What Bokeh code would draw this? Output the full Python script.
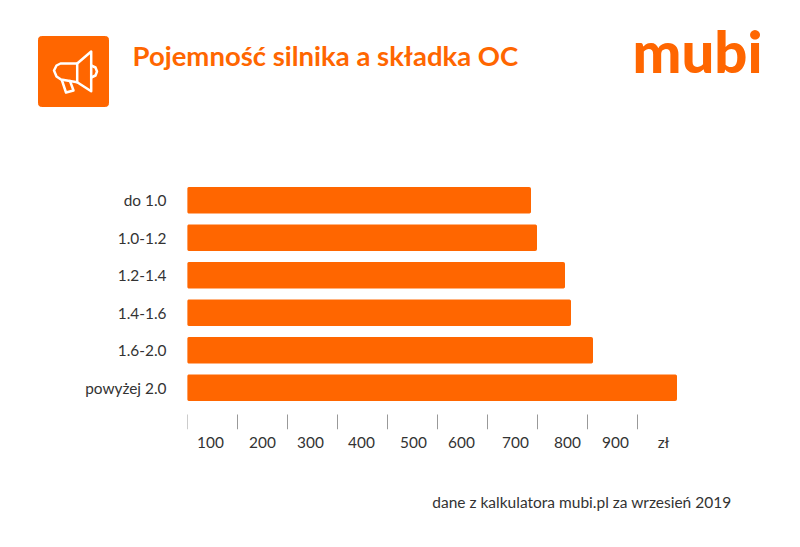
from bokeh.embed import file_html
from bokeh.layouts import column
from bokeh.resources import INLINE
from bokeh.plotting import figure
from bokeh.models import Range1d, LinearAxis, FixedTicker, Label

categories = ["do 1.0", "1.0-1.2", "1.2-1.4", "1.4-1.6", "1.6-2.0", "powyżej 2.0"]
premium = [686, 698, 754, 766, 810, 978]
tick_values = [0, 100, 200, 300, 400, 500, 600, 700, 800, 900]
label_anchors = [46, 150, 246, 348, 452, 548, 656, 760, 856, 952]
tick_labels = ["100", "200", "300", "400", "500", "600", "700", "800", "900", "zł"]
title_text = "Pojemność silnika a składka OC"
source_text = "dane z kalkulatora mubi.pl za wrzesień 2019"
logo_text = "mubi"

ORANGE = "#FF6600"
TEXT = "#333333"
FONT = "Lato"
WIDTH = 800
HEADER_H, CHART_BOTTOM = 181, 477
LEFT, STEP, X_SCALE = 187, 37.5, 0.5
Y_END = 248 / STEP - 0.5
TICK_LEN = 15 / STEP


def blank(height, y_top):
    """A figure whose frame fills it, with ranges in page pixels."""
    f = figure(width=WIDTH, height=height, x_range=Range1d(0, WIDTH),
               y_range=Range1d(y_top + height, y_top), output_backend="svg",
               toolbar_location=None, x_axis_location=None, y_axis_location=None,
               min_border=0, outline_line_color=None, frame_align=False)
    f.grid.visible = False
    return f


header = blank(HEADER_H, 0)
header.quad(left=[38], right=[108], top=[36], bottom=[106], color=ORANGE, border_radius=3)
icon_lines = [
    [(76.7, 63), (90.7, 51), (90.7, 90.7), (76.7, 81.7), (76.7, 63)],
    [(76.7, 63), (60, 63), (56, 65), (53.5, 70), (56, 76), (60.5, 79), (76.7, 81.7)],
    [(61.5, 80), (65.5, 92), (73, 90), (69.5, 80.5)],
    [(90.7, 65), (95, 67), (96.5, 71), (95, 75), (90.7, 77)],
]
header.multi_line(xs=[[a for a, _ in l] for l in icon_lines],
                  ys=[[b for _, b in l] for l in icon_lines],
                  line_color="white", line_width=2.5, line_join="round", line_cap="round")
header.add_layout(Label(x=132, y=55, text=title_text, text_font=FONT, text_font_style="bold",
                        text_font_size="27.5px", text_color=ORANGE, text_baseline="middle"))
header.add_layout(Label(x=632, y=50, text=logo_text, text_font="Lato Black", text_font_style="bold",
                        text_font_size="58px", text_color=ORANGE, text_baseline="middle"))

positions = list(range(len(categories)))
p = figure(width=WIDTH, height=CHART_BOTTOM - HEADER_H, x_range=Range1d(0, 1200),
           y_range=Range1d(Y_END, -0.5), output_backend="svg", toolbar_location=None,
           min_border_left=LEFT, min_border_right=13, min_border_top=0, min_border_bottom=48,
           outline_line_color=None, x_axis_location=None, frame_align=False)
p.grid.visible = False
p.hbar(y=positions, right=premium, left=0, height=0.68, color=ORANGE, border_radius=1)
p.segment(x0=tick_values, x1=tick_values, y0=[Y_END - TICK_LEN] * len(tick_values),
          y1=[Y_END] * len(tick_values), line_color="#999999", line_width=1)

y_axis = p.yaxis[0]
y_axis.ticker = FixedTicker(ticks=positions)
y_axis.major_label_overrides = dict(zip(positions, categories))
y_axis.axis_line_color = None
y_axis.major_tick_line_color = None
y_axis.minor_tick_line_color = None
y_axis.major_tick_out = 0
y_axis.major_tick_in = 0
y_axis.major_label_standoff = 21
y_axis.major_label_text_font = FONT
y_axis.major_label_text_font_size = "15.4px"
y_axis.major_label_text_color = TEXT

label_axis = LinearAxis(ticker=FixedTicker(ticks=label_anchors),
                        major_label_overrides=dict(zip(label_anchors, tick_labels)),
                        axis_line_color=None, major_tick_line_color=None, minor_tick_line_color=None,
                        major_tick_in=0, major_tick_out=0, major_label_standoff=3,
                        major_label_text_font=FONT, major_label_text_font_size="15.4px",
                        major_label_text_color=TEXT)
p.add_layout(label_axis, "below")

footer = blank(547 - CHART_BOTTOM, CHART_BOTTOM)
footer.add_layout(Label(x=731, y=501, text=source_text, text_font=FONT, text_font_size="15.5px",
                        text_color=TEXT, text_align="right", text_baseline="middle"))

page = column(header, p, footer, spacing=0)
open("out.html", "w").write(file_html(page, INLINE))
